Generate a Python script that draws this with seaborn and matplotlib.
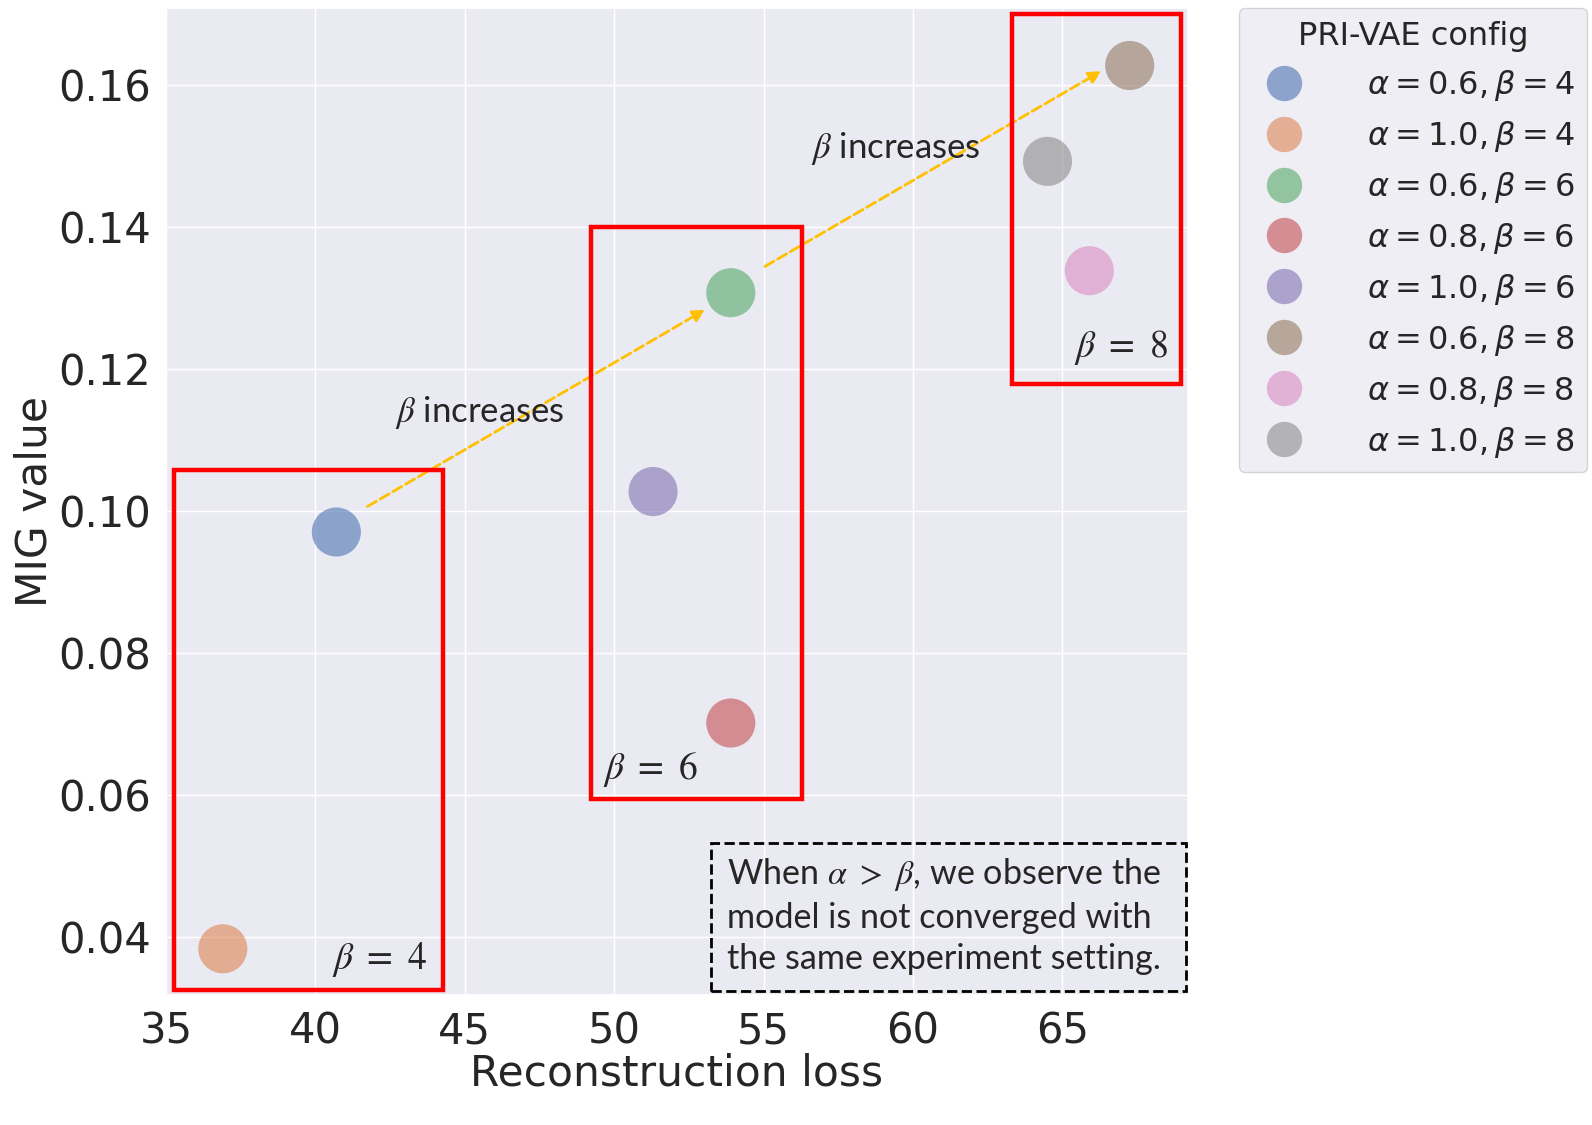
import pandas as pd
import matplotlib.pyplot as plt
import seaborn as sns
from matplotlib.patches import Rectangle

# values
configs = [r'$\alpha=0.6, \beta=4$', r'$\alpha=1.0, \beta=4$',
           r'$\alpha=0.6, \beta=6$', r'$\alpha=0.8, \beta=6$',
           r'$\alpha=1.0, \beta=6$', r'$\alpha=0.6, \beta=8$',
           r'$\alpha=0.8, \beta=8$', r'$\alpha=1.0, \beta=8$']
recon_loss = [40.7, 36.9, 53.9, 53.9, 51.3, 67.25, 65.9, 64.5]
mig_value = [0.0970, 0.0383, 0.1307, 0.0701, 0.1027, 0.1627, 0.1338, 0.1492]
palette = ['#4C72B0', '#DD8452', '#55A868', '#C44E52',
           '#8172B3', '#937860', '#DA8BC3', '#8C8C8C']

# beta groups: (x0, x1, y0, y1) and label position
groups = {
    r'$\beta\ =\ 4$': ((35.27, 44.28, 0.0325, 0.1058), (42.13, 0.0368)),
    r'$\beta\ =\ 6$': ((49.23, 56.27, 0.0594, 0.1399), (51.2, 0.0635)),
    r'$\beta\ =\ 8$': ((63.30, 68.96, 0.1179, 0.1700), (66.95, 0.1230)),
}

df = pd.DataFrame({'config': configs, 'loss': recon_loss, 'mig': mig_value})

sns.set_theme(style='darkgrid')
plt.rcParams['font.family'] = ['DejaVu Sans']

fig = plt.figure(figsize=(15.92, 11.25), dpi=100)
ax = fig.add_axes([0.1043, 0.1156, 0.6419, 0.8773])

sns.scatterplot(data=df, x='loss', y='mig', hue='config', palette=palette,
                s=1250, alpha=0.6, linewidth=0, ax=ax)

ax.set_xlim(35, 69.2)
ax.set_ylim(0.0318, 0.1708)
ax.set_xticks([35, 40, 45, 50, 55, 60, 65])
ax.set_yticks([0.04, 0.06, 0.08, 0.10, 0.12, 0.14, 0.16])
ax.set_yticklabels(['0.04', '0.06', '0.08', '0.10', '0.12', '0.14', '0.16'])
ax.tick_params(labelsize=30, pad=5)
ax.set_xlabel('Reconstruction loss', fontsize=30.5, labelpad=0)
ax.set_ylabel('MIG value', fontsize=30.5, labelpad=2)

# red boxes around each beta group
for label, ((x0, x1, y0, y1), (tx, ty)) in groups.items():
    ax.add_patch(Rectangle((x0, y0), x1 - x0, y1 - y0, fill=False,
                           ec='#FF0000', lw=3.2, zorder=4))
    ax.text(tx, ty, label, fontsize=27, ha='center', va='center',
            math_fontfamily='stix', zorder=5)

# dashed arrows
arrow_kw = dict(arrowstyle='-|>', color='#FFC000', lw=2, ls='--',
                mutation_scale=18)
ax.annotate('', xy=(53.12, 0.1285), xytext=(41.66, 0.1004),
            arrowprops=arrow_kw, zorder=3)
ax.annotate('', xy=(66.38, 0.1621), xytext=(54.96, 0.1342),
            arrowprops=arrow_kw, zorder=3)
ax.text(42.67, 0.1138, r'$\beta$ increases', fontsize=25, family='Lato',
        va='center', math_fontfamily='stix')
ax.text(56.57, 0.1510, r'$\beta$ increases', fontsize=25, family='Lato',
        va='center', math_fontfamily='stix')

# note box
ax.add_patch(Rectangle((53.25, 0.0323), 69.15 - 53.25, 0.0532 - 0.0323,
                       fill=False, ec='black', lw=2, ls='--', zorder=4,
                       clip_on=False))
ax.text(53.78, 0.0430,
        'When $\\alpha\\ >\\ \\beta$, we observe the\nmodel is not converged with\nthe same experiment setting.',
        fontsize=24.6, family='Lato', va='center', ha='left',
        linespacing=1.36, math_fontfamily='stix', zorder=5)

leg = ax.legend(title='PRI-VAE config', loc='upper left',
                bbox_to_anchor=(1.05, 1.0), borderaxespad=0,
                fontsize=23, title_fontsize=23, markerscale=0.72,
                handletextpad=1.6, labelspacing=0.5, frameon=True)

fig.savefig('out.png', dpi=100)
